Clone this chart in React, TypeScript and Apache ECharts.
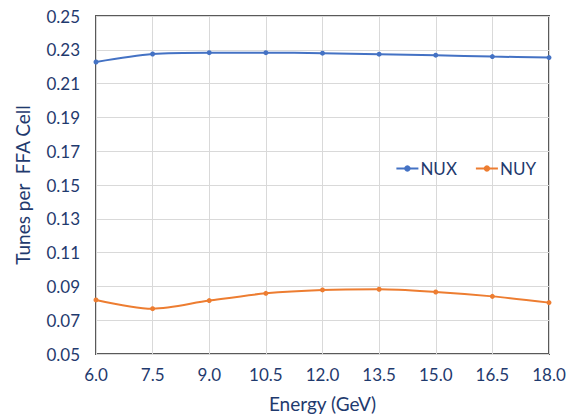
import React, { useEffect, useRef } from "react";
import * as echarts from "echarts";

const energies = [6.0, 7.5, 9.0, 10.5, 12.0, 13.5, 15.0, 16.5, 18.0];
const nux = [0.2228, 0.2275, 0.2283, 0.2283, 0.228, 0.2274, 0.2268, 0.226, 0.2254];
const nuy = [0.082, 0.0768, 0.0816, 0.0859, 0.0879, 0.0883, 0.0867, 0.0841, 0.0804];
const yBase = 0.05;

const textColor = "#1F3A6E";
const font = "Lato";

export default function App() {
  const ref = useRef<HTMLDivElement>(null);
  useEffect(() => {
    const chart = echarts.init(ref.current!, null, { renderer: "svg" });
    chart.setOption({
      animation: false,
      backgroundColor: "#fff",
      textStyle: { fontFamily: font, color: textColor },
      grid: {
        left: 96,
        right: 20,
        top: 16,
        bottom: 64,
        show: true,
        borderColor: "#595959",
        borderWidth: 2,
        backgroundColor: "transparent",
      },
      legend: {
        data: ["NUX", "NUY"],
        right: 28,
        top: 155,
        itemWidth: 22,
        itemHeight: 8,
        itemGap: 18,
        textStyle: { fontFamily: font, color: textColor, fontSize: 17, padding: [0, 0, 0, -3] },
      },
      xAxis: {
        type: "value",
        min: 6,
        max: 18,
        interval: 1.5,
        name: "Energy (GeV)",
        nameLocation: "middle",
        nameGap: 40,
        nameTextStyle: { fontFamily: font, color: textColor, fontSize: 19 },
        axisLine: { show: false },
        axisTick: { show: false },
        axisLabel: {
          color: textColor,
          fontFamily: font,
          fontSize: 17,
          margin: 12,
          formatter: (v: number) => v.toFixed(1),
        },
        splitLine: { show: true, lineStyle: { color: "#D9D9D9", width: 1 } },
      },
      yAxis: {
        type: "value",
        min: 0,
        max: 0.2,
        interval: 0.02,
        name: "Tunes per  FFA Cell",
        nameLocation: "middle",
        nameGap: 64,
        nameTextStyle: { fontFamily: font, color: textColor, fontSize: 19 },
        axisLine: { show: false },
        axisTick: { show: false },
        axisLabel: {
          color: textColor,
          fontFamily: font,
          fontSize: 17,
          margin: 16,
          formatter: (v: number) => (v + yBase).toFixed(2),
        },
        splitLine: { show: true, lineStyle: { color: "#D9D9D9", width: 1 } },
      },
      series: [
        {
          name: "NUX",
          type: "line",
          smooth: 0.3,
          symbol: "circle",
          symbolSize: 5,
          color: "#4472C4",
          lineStyle: { width: 2, color: "#4472C4" },
          data: energies.map((e, i) => [e, nux[i] - yBase]),
        },
        {
          name: "NUY",
          type: "line",
          smooth: 0.3,
          symbol: "circle",
          symbolSize: 5,
          color: "#ED7D31",
          lineStyle: { width: 2, color: "#ED7D31" },
          data: energies.map((e, i) => [e, nuy[i] - yBase]),
        },
      ],
    });
    return () => chart.dispose();
  }, []);
  return <div ref={ref} style={{ width: 569, height: 418, position: "absolute", left: 0, top: 0 }} />;
}
